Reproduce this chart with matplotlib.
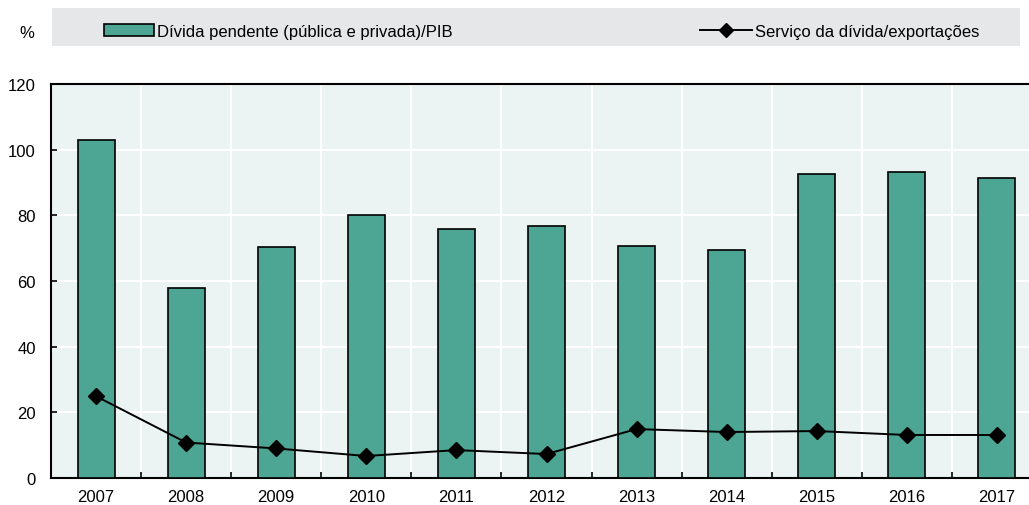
import matplotlib
matplotlib.use("Agg")
import matplotlib.pyplot as plt
import numpy as np
from matplotlib.patches import Rectangle, Patch
from matplotlib.lines import Line2D

# ── DATA ──────────────────────────────────────────────────────────────────────
years = ['2007', '2008', '2009', '2010', '2011', '2012', '2013', '2014', '2015', '2016', '2017']
debt_gdp = [103.0, 58.0, 70.5, 80.2, 75.7, 76.9, 70.8, 69.3, 92.7, 93.3, 91.5]
debt_service = [24.9, 10.8, 9.0, 6.7, 8.5, 7.3, 14.9, 14.0, 14.3, 13.1, 13.1]

label_bar = 'Dívida pendente (pública e privada)/PIB'
label_line = 'Serviço da dívida/exportações'

# ── STYLE ─────────────────────────────────────────────────────────────────────
BAR_COLOR = '#4da594'
BG_COLOR = '#ebf4f3'
LEGEND_BG = '#e6e7e9'
plt.rcParams['font.family'] = ['Liberation Sans', 'DejaVu Sans']
FS = 12

W, H = 1029, 506
fig = plt.figure(figsize=(W / 100, H / 100), dpi=100)
ax = fig.add_axes([51 / W, 1 - 479 / H, (W - 51) / W, (479 - 85) / H])
ax.set_facecolor(BG_COLOR)

x = np.arange(len(years))
ax.bar(x, debt_gdp, width=0.41, color=BAR_COLOR, edgecolor='black', linewidth=1.2, zorder=3)
ax.plot(x, debt_service, color='black', linewidth=1.4, marker='D', markersize=8, zorder=4)

ax.set_xlim(-0.5, len(years) - 0.5 - 13 / 90)
ax.set_ylim(0, 120)
ax.set_yticks(range(0, 121, 20))
ax.set_xticks(x)
ax.set_xticklabels(years)
ax.set_xticks(x[:-1] + 0.5, minor=True)

# white grid between categories and at y ticks
ax.grid(axis='y', which='major', color='white', linewidth=1.5, zorder=0)
ax.grid(axis='x', which='minor', color='white', linewidth=1.5, zorder=0)
ax.set_axisbelow(True)

for side in ['top', 'left', 'bottom']:
    ax.spines[side].set_linewidth(1.5)
    ax.spines[side].set_color('black')
ax.spines['right'].set_visible(False)

ax.tick_params(axis='x', which='major', length=0, pad=8, labelsize=FS)
ax.tick_params(axis='x', which='minor', direction='in', length=4, width=1.2)
ax.tick_params(axis='y', direction='in', length=4, width=1.2, pad=11, labelsize=FS)

# ── LEGEND STRIP ──────────────────────────────────────────────────────────────
fig.patches.append(Rectangle((52 / W, 1 - 47 / H), (1020 - 52) / W, 38 / H,
                             transform=fig.transFigure, facecolor=LEGEND_BG,
                             edgecolor='none', zorder=0))
fig.text(27 / W, 1 - 33 / H, '%', fontsize=FS, ha='center', va='center')

h_bar = Patch(facecolor=BAR_COLOR, edgecolor='black', linewidth=1.2)
h_line = Line2D([], [], color='black', linewidth=1.4, marker='D', markersize=7)
leg1 = fig.legend(handles=[h_bar], labels=[label_bar], loc='center left',
                  bbox_to_anchor=(104 / W, 1 - 32 / H), frameon=False, fontsize=FS,
                  handlelength=3.0, handleheight=0.75, handletextpad=0.2,
                  borderpad=0, borderaxespad=0)
leg2 = fig.legend(handles=[h_line], labels=[label_line], loc='center left',
                  bbox_to_anchor=(700 / W, 1 - 32 / H), frameon=False, fontsize=FS,
                  handlelength=3.1, handletextpad=0.2, borderpad=0, borderaxespad=0)

fig.savefig('out.png', dpi=100)
